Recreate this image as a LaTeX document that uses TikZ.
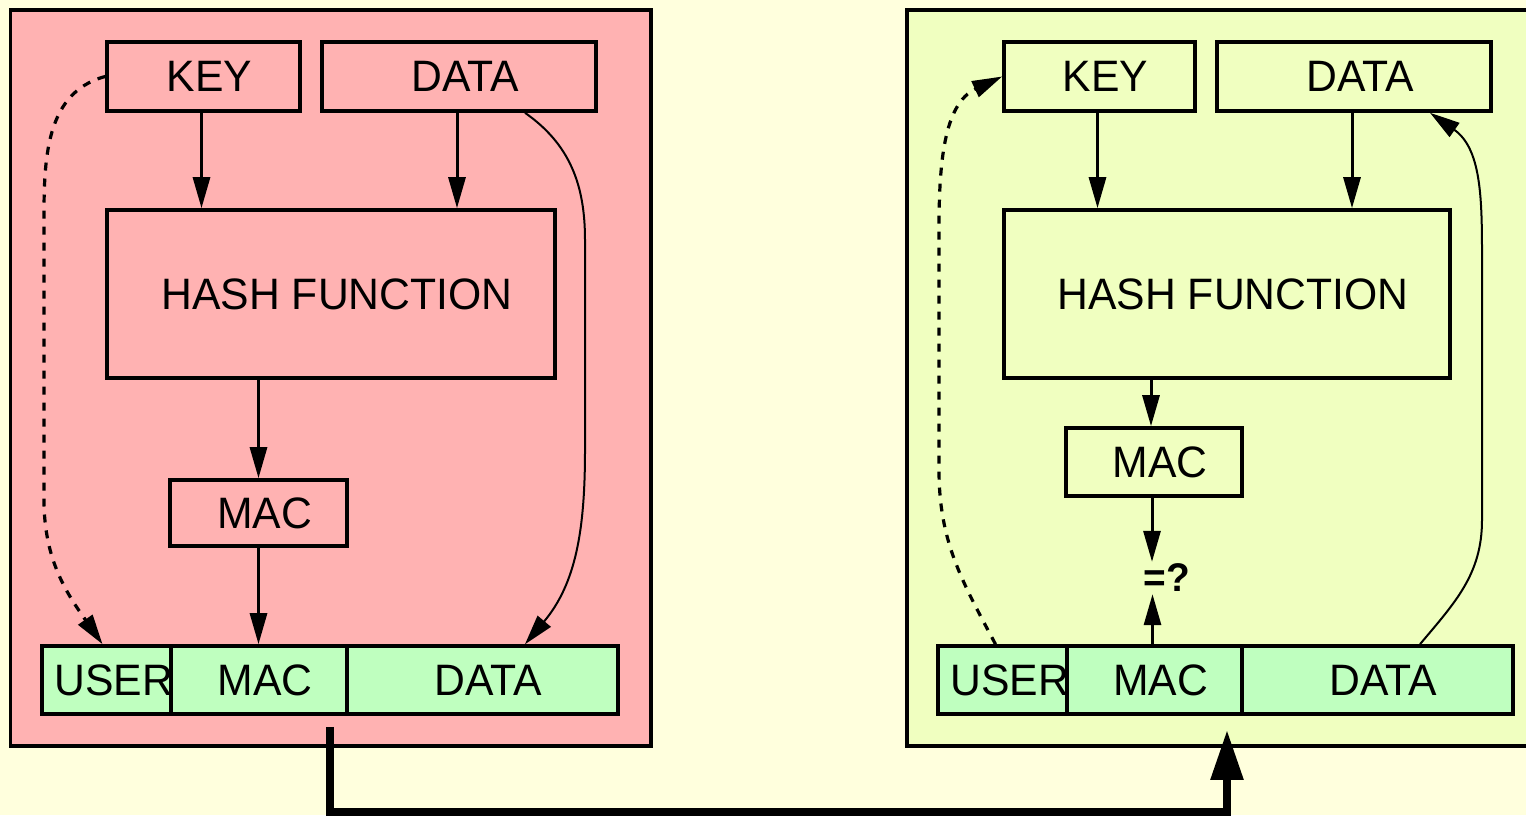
\documentclass[tikz,border=0pt]{standalone}
\usepackage{fontspec}
\setmainfont{Liberation Sans}[FakeStretch=0.97]
\usetikzlibrary{arrows.meta}
\definecolor{bgyellow}{RGB}{255,255,221}
\definecolor{pinkpanel}{RGB}{255,178,178}
\definecolor{limepanel}{RGB}{240,255,192}
\definecolor{cellgreen}{RGB}{191,255,191}
\newcommand\bxfont{\fontsize{44}{52}\selectfont}
\tikzset{
  box/.style={draw, line width=3.6pt, inner sep=0pt, font=\bxfont, execute at begin node=\hspace*{12pt}},
  cell/.style={box, fill=cellgreen},
  panel/.style={draw, line width=3.6pt},
  arr/.style={line width=3pt, -{Triangle[length=31pt,width=17pt]}},
  thinarr/.style={line width=2pt, line join=round, -{Triangle[length=30pt,width=17pt]}},
  dotarr/.style={line width=3.2pt, dash pattern=on 8pt off 8pt, -{Triangle[length=30pt,width=17pt]}},
  bigarr/.style={line width=8.5pt, line join=miter, -{Triangle[length=50pt,width=31pt]}}
}
\begin{document}
\begin{tikzpicture}[x=1pt,y=-1pt]
\fill[bgyellow] (0,0) rectangle (1526,815);
\useasboundingbox (0,0) rectangle (1526,815);
\clip (0,0) rectangle (1526,815);
% panels
\draw[panel, fill=pinkpanel] (10.5,10) rectangle (651,746);
\draw[panel, fill=limepanel] (907,10) rectangle (1545,746);

% ---- left (sender) ----
\node[box, minimum width=193pt, minimum height=69pt] (lkey) at (203.5,76.5) {KEY};
\node[box, minimum width=274pt, minimum height=69pt] (ldata) at (459,76.5) {DATA};
\node[box, minimum width=448pt, minimum height=168pt] (lhash) at (331,294) {HASH FUNCTION};
\node[box, minimum width=177pt, minimum height=66pt] (lmac) at (258.5,513) {MAC};
\node[cell, minimum width=129pt, minimum height=68pt] (luser) at (106.5,680) {};
\node[cell, minimum width=176pt, minimum height=68pt] (lbmac) at (259,680) {MAC};
\node[cell, minimum width=271pt, minimum height=68pt] (lbdata) at (482.5,680) {DATA};
\node[font=\bxfont, inner sep=0pt, anchor=west] (luserlbl) at ([xshift=14pt]luser.west) {USER};

\draw[arr] ([xshift=-2pt]lkey.south) -- ([xshift=-2pt]lkey.south |- lhash.north);
\draw[arr] ([xshift=-2pt]ldata.south) -- ([xshift=-2pt]ldata.south |- lhash.north);
\draw[arr] (lmac.north |- lhash.south) -- (lmac.north);
\draw[arr] (lmac.south) -- (lmac.south |- lbmac.north);
\draw[thinarr] ([xshift=66pt]ldata.south) to[out=-35,in=90] (585,240) -- (585,450) to[out=-90,in=50] ([xshift=42.5pt]lbdata.north);
\draw[dotarr] (lkey.west) to[out=195,in=90] (44,235) -- (44,500) to[out=-90,in=125] ([xshift=-4pt]luser.north);

% ---- right (receiver) ----
\node[box, minimum width=191pt, minimum height=69pt] (rkey) at (1099.5,76.5) {KEY};
\node[box, minimum width=274pt, minimum height=69pt] (rdata) at (1354,76.5) {DATA};
\node[box, minimum width=446pt, minimum height=168pt] (rhash) at (1227,294) {HASH FUNCTION};
\node[box, minimum width=176pt, minimum height=68pt] (rmac) at (1154,462) {MAC};
\node[font=\bfseries\fontsize{40}{48}\selectfont, inner sep=2pt] (eq) at (1167,578) {=?};
\node[cell, minimum width=129pt, minimum height=68pt] (ruser) at (1002.5,680) {};
\node[cell, minimum width=175pt, minimum height=68pt] (rbmac) at (1154.5,680) {MAC};
\node[cell, minimum width=271pt, minimum height=68pt] (rbdata) at (1377.5,680) {DATA};
\node[font=\bxfont, inner sep=0pt, anchor=west] (ruserlbl) at ([xshift=14pt]ruser.west) {USER};

\draw[arr] ([xshift=-2pt]rkey.south) -- ([xshift=-2pt]rkey.south |- rhash.north);
\draw[arr] ([xshift=-2pt]rdata.south) -- ([xshift=-2pt]rdata.south |- rhash.north);
\draw[arr] ([xshift=-3pt]rmac.north |- rhash.south) -- ([xshift=-3pt]rmac.north);
\draw[arr] ([xshift=-2pt]rmac.south) -- ([xshift=-2pt]rmac.south |- eq.north);
\draw[arr] ([xshift=-2pt]rbmac.north) -- ([xshift=-2pt]rbmac.north |- eq.south);
\draw[thinarr] ([xshift=42.5pt]rbdata.north) to[out=50,in=-90] (1482,520) -- (1482,270) to[out=90,in=-35] ([xshift=76pt]rdata.south);
\draw[dotarr] ([xshift=-7pt]ruser.north) to[out=118,in=-90] (939,470) -- (939,230) to[out=90,in=205] (rkey.west);

% ---- transmission ----
\draw[bigarr] ([xshift=71pt,yshift=-11pt]lbmac.south) -- ++(0,85) -| ([xshift=72.5pt,yshift=-14pt]rbmac.south);
\end{tikzpicture}
\end{document}
